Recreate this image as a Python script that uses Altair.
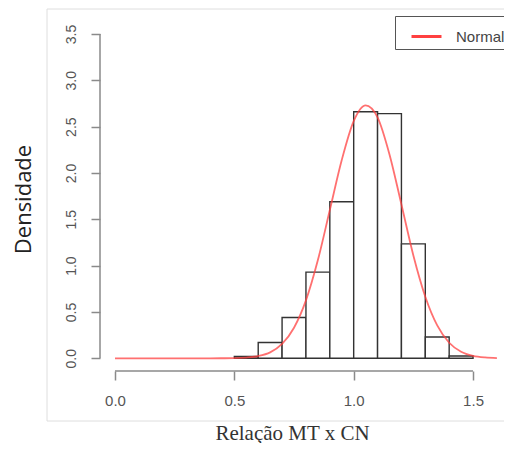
import altair as alt
import pandas as pd

# Histogram bins (density scale)
bin_starts = [0.5, 0.6, 0.7, 0.8, 0.9, 1.0, 1.1, 1.2, 1.3, 1.4]
bin_ends = [0.6, 0.7, 0.8, 0.9, 1.0, 1.1, 1.2, 1.3, 1.4, 1.5]
densities = [0.02, 0.17, 0.44, 0.93, 1.69, 2.66, 2.64, 1.235, 0.23, 0.025]

# Fitted normal curve
curve_x = [0.0, 0.1, 0.2, 0.3, 0.4, 0.45, 0.5, 0.55, 0.6, 0.65, 0.7, 0.75, 0.8,
           0.85, 0.9, 0.95, 1.0, 1.05, 1.1, 1.15, 1.2, 1.25, 1.3, 1.35, 1.4,
           1.45, 1.5, 1.55, 1.6]
curve_y = [0.0, 0.0, 0.0, 0.0, 0.0001, 0.0006, 0.002, 0.008, 0.024, 0.064, 0.155,
           0.33, 0.625, 1.06, 1.6, 2.14, 2.56, 2.73, 2.6, 2.2, 1.66, 1.11, 0.665,
           0.355, 0.168, 0.071, 0.027, 0.009, 0.003]
series_name = "Normal"

x_ticks = [0.0, 0.5, 1.0, 1.5]
y_ticks = [0.0, 0.5, 1.0, 1.5, 2.0, 2.5, 3.0, 3.5]

x_title = "Relação MT x CN"
y_title = "Densidade"

PLOT_W = 404
PLOT_H = 355
AXIS_GRAY = "#8a8a8a"

hist_df = pd.DataFrame({"b0": bin_starts, "b1": bin_ends, "d": densities})
curve_df = pd.DataFrame({"x": curve_x, "y": curve_y, "serie": [series_name] * len(curve_x)})
xline_df = pd.DataFrame({"x0": [min(x_ticks)], "x1": [max(x_ticks)]})
yline_df = pd.DataFrame({"y0": [min(y_ticks)], "y1": [max(y_ticks)]})
frame_df = pd.DataFrame({"k": [0]})

xs = alt.Scale(domain=[-0.0628, 1.6297], nice=False, zero=False)
ys = alt.Scale(domain=[-0.137, 3.694], nice=False, zero=False)

xaxis = alt.Axis(
    values=x_ticks, format=".1f", domain=False, grid=False,
    tickSize=9, tickColor=AXIS_GRAY, tickWidth=1.5,
    labelFont="Liberation Sans", labelFontSize=15, labelColor="#555555",
    labelPadding=13, labelFlush=False,
    title=x_title, titleFont="Liberation Serif", titleFontSize=21,
    titleFontWeight="normal", titleColor="#333333",
    titleX=192, titleY=68, titleAlign="center", titleBaseline="alphabetic",
)
yaxis = alt.Axis(
    values=y_ticks, format=".1f", domain=False, grid=False,
    tickSize=9, tickColor=AXIS_GRAY, tickWidth=1.5,
    labelFont="Liberation Sans", labelFontSize=14, labelColor="#555555",
    labelAngle=270, labelAlign="center", labelBaseline="bottom",
    labelPadding=13, labelFlush=False,
    title=y_title, titleFont="Open Sans", titleFontSize=22,
    titleFontWeight="normal", titleColor="#222222",
    titleAngle=270, titleX=-77, titleY=183, titleAlign="center",
    titleBaseline="middle",
)

frame = alt.Chart(frame_df).mark_rect(
    fill="transparent", stroke="#dedede", strokeWidth=1
).encode(
    x=alt.value(-53), x2=alt.value(PLOT_W + 30),
    y=alt.value(-7), y2=alt.value(405),
)

bars = alt.Chart(hist_df).mark_rect(
    fill="white", stroke="#333333", strokeWidth=1.4
).encode(
    x=alt.X("b0:Q", scale=xs, axis=xaxis),
    x2="b1:Q",
    y=alt.Y("d:Q", scale=ys, axis=yaxis),
    y2=alt.datum(0),
)

curve = alt.Chart(curve_df).mark_line(
    strokeWidth=1.8, strokeOpacity=0.75, interpolate="monotone"
).encode(
    x=alt.X("x:Q", scale=xs, axis=xaxis),
    y=alt.Y("y:Q", scale=ys, axis=yaxis),
    color=alt.Color(
        "serie:N",
        scale=alt.Scale(domain=[series_name], range=["#ff4040"]),
        legend=alt.Legend(
            orient="none", legendX=295, legendY=0, title=None,
            symbolType="stroke", symbolSize=900, symbolStrokeWidth=3,
            symbolOpacity=1, padding=4, symbolOffset=11, labelOffset=13,
            labelFont="Liberation Sans", labelFontSize=15, labelColor="#444444",
            strokeColor="#555555", fillColor="white",
            labelExpr="datum.label + '\u00a0\u00a0\u00a0\u00a0\u00a0\u00a0'",
        ),
    ),
)

xline = alt.Chart(xline_df).mark_rule(color=AXIS_GRAY, strokeWidth=1.5).encode(
    x=alt.X("x0:Q", scale=xs, axis=xaxis), x2="x1:Q", y=alt.value(PLOT_H)
)
yline = alt.Chart(yline_df).mark_rule(color=AXIS_GRAY, strokeWidth=1.5).encode(
    y=alt.Y("y0:Q", scale=ys, axis=yaxis), y2="y1:Q", x=alt.value(0)
)

chart = alt.layer(frame, bars, curve, xline, yline).properties(
    width=PLOT_W, height=PLOT_H,
    padding={"left": 92, "top": 8, "right": 0, "bottom": 72},
    autosize=alt.AutoSizeParams(type="none"),
    background="white",
).configure_view(strokeWidth=0)

chart.save("out.html", embed_options={"renderer": "svg", "actions": False})
